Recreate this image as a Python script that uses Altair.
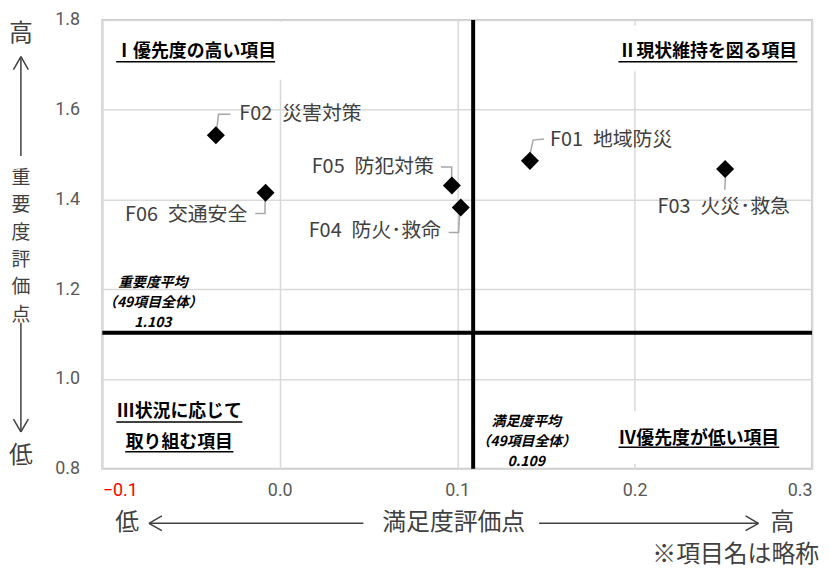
import altair as alt
import pandas as pd

# ---------------- data ----------------
codes = ["F01", "F02", "F03", "F04", "F05", "F06"]
names = ["地域防災", "災害対策", "火災･救急", "防火･救命", "防犯対策", "交通安全"]
satisfaction = [0.141, -0.036, 0.251, 0.102, 0.097, -0.008]
importance = [1.486, 1.543, 1.468, 1.382, 1.431, 1.415]

avg_satisfaction = 0.109
avg_importance = 1.103

x_ticks = [-0.1, 0.0, 0.1, 0.2, 0.3]
y_ticks = [0.8, 1.0, 1.2, 1.4, 1.6, 1.8]

# label anchors (data units)
label_x = [0.1523, -0.0228, 0.2502, 0.0908, 0.0869, -0.0183]
label_y = [1.5323, 1.590, 1.382, 1.3288, 1.4726, 1.366]
label_align = ["left", "left", "center", "right", "right", "right"]

# leader lines (data units)
leader_x = {
    "F01": [0.1406, 0.1428, 0.1490],
    "F02": [-0.0357, -0.0345, -0.0278],
    "F03": [0.2513, 0.2508],
    "F04": [0.1014, 0.1008, 0.0952],
    "F05": [0.0969, 0.0969, 0.0908],
    "F06": [-0.0083, -0.0083, -0.0138],
}
leader_y = {
    "F01": [1.4925, 1.5323, 1.5345],
    "F02": [1.550, 1.590, 1.590],
    "F03": [1.4593, 1.4217],
    "F04": [1.375, 1.3265, 1.3265],
    "F05": [1.437, 1.4726, 1.4726],
    "F06": [1.406, 1.3686, 1.3686],
}

# quadrant captions
quad_text = ["Ⅰ優先度の高い項目", "Ⅱ現状維持を図る項目", "Ⅲ状況に応じて", "取り組む項目", "Ⅳ優先度が低い項目"]
quad_x = [-0.0474, 0.2413, -0.0566, -0.0566, 0.2362]
quad_y = [1.7292, 1.7292, 0.9261, 0.8575, 0.8664]
quad_half = [0.0448, 0.0504, 0.0355, 0.0305, 0.0453]
quad_uy = [1.707, 1.707, 0.904, 0.8376, 0.8476]

# white boxes behind captions
box_x = [-0.096, 0.1864, 0.1864]
box_x2 = [0.0046, 0.2955, 0.287]
box_y = [1.796, 1.787, 0.928]
box_y2 = [1.667, 1.685, 0.811]

# average captions
imp_lines = ["重要度平均", "（49項目全体）", f"{avg_importance:.3f}"]
imp_lx = -0.0715
imp_ly = [1.2144, 1.1695, 1.1246]
sat_lines = ["満足度平均", "（49項目全体）", f"{avg_satisfaction:.3f}"]
sat_lx = 0.1389
sat_ly = [0.9046, 0.8597, 0.8148]

# axis title decorations (pixels, relative to the plot origin)
seg_x = [-82, -82, -82, -82, -82, -82, 47, 47, 47, 440, 661, 661]
seg_y = [37, 37, 37, 305, 415, 415, 507, 507, 507, 507, 507, 507]
seg_x2 = [-82, -89.5, -74.5, -82, -89.5, -74.5, 263, 60, 60, 661, 648, 648]
seg_y2 = [137, 50, 50, 415, 402, 402, 507, 499.5, 514.5, 507, 499.5, 514.5]

y_title_chars = list("重要度評価点")
y_title_top = 159
y_title_step = 27.6

deco_text = ["高", "低", "低", "満足度評価点", "高", "※項目名は略称"] + y_title_chars
deco_x = [-82, -82, 25, 354, 685, 722] + [-82] * len(y_title_chars)
deco_y = [14, 439, 507, 507, 507, 539] + [y_title_top + i * y_title_step
                                          for i in range(len(y_title_chars))]
deco_fs = [24, 24, 24, 24, 24, 24] + [19] * len(y_title_chars)
deco_align = ["center", "center", "center", "center", "center", "right"] + \
             ["center"] * len(y_title_chars)

JP = "Noto Sans CJK JP"

# ---------------- frames ----------------
pts = pd.DataFrame({"code": codes, "name": names, "x": satisfaction, "y": importance,
                    "lx": label_x, "ly": label_y, "align": label_align})
pts["label"] = pts["code"] + "\u2002" + pts["name"]

lead_rows = []
for c in codes:
    for i, (a, b) in enumerate(zip(leader_x[c], leader_y[c])):
        lead_rows.append({"code": c, "i": i, "x": a, "y": b})
lead = pd.DataFrame(lead_rows)

quad = pd.DataFrame({"t": quad_text, "x": quad_x, "y": quad_y,
                     "ux": [a - h for a, h in zip(quad_x, quad_half)],
                     "ux2": [a + h for a, h in zip(quad_x, quad_half)],
                     "uy": quad_uy})
boxes = pd.DataFrame({"x": box_x, "x2": box_x2, "y": box_y, "y2": box_y2})
avgtxt = pd.DataFrame({"t": imp_lines + sat_lines,
                       "x": [imp_lx] * 3 + [sat_lx] * 3,
                       "y": imp_ly + sat_ly})
segs = pd.DataFrame({"x": seg_x, "y": seg_y, "x2": seg_x2, "y2": seg_y2})
deco = pd.DataFrame({"t": deco_text, "x": deco_x, "y": deco_y, "fs": deco_fs,
                     "align": deco_align})

xscale = alt.Scale(domain=[-0.1, 0.3], nice=False, zero=False)
yscale = alt.Scale(domain=[0.8, 1.8], nice=False, zero=False)
xaxis = alt.Axis(values=x_ticks, format=".1f", title=None, ticks=False, domain=False,
                 labelFont="Roboto", labelFontSize=18, labelPadding=13,
                 labelColor={"condition": {"test": "datum.value < 0", "value": "#ff0000"},
                             "value": "#595959"},
                 gridColor="#d9d9d9", gridWidth=1.5)
yaxis = alt.Axis(values=y_ticks, format=".1f", title=None, ticks=False, domain=False,
                 labelFont="Roboto", labelFontSize=18, labelPadding=23, labelColor="#595959",
                 gridColor="#d9d9d9", gridWidth=1.5)


def X(f):
    return alt.X(f, type="quantitative", scale=xscale, axis=xaxis)


def Y(f):
    return alt.Y(f, type="quantitative", scale=yscale, axis=yaxis)


box_layer = alt.Chart(boxes).mark_rect(color="white").encode(
    x=X("x"), x2="x2", y=Y("y"), y2="y2")

vline = alt.Chart(pd.DataFrame({"v": [avg_satisfaction]})).mark_rule(
    color="black", strokeWidth=4).encode(x=X("v"))
hline = alt.Chart(pd.DataFrame({"v": [avg_importance]})).mark_rule(
    color="black", strokeWidth=4).encode(y=Y("v"))

leaders = alt.Chart(lead).mark_line(color="#a6a6a6", strokeWidth=1.5).encode(
    x=X("x"), y=Y("y"), detail="code:N", order="i:Q")

points = alt.Chart(pts).mark_point(shape="diamond", filled=True, color="black",
                                   size=330, opacity=1).encode(x=X("x"), y=Y("y"))


def label_layer(al):
    return alt.Chart(pts[pts["align"] == al]).mark_text(
        align=al, baseline="middle", font=JP, fontSize=20, color="#404040").encode(
        x=X("lx"), y=Y("ly"), text="label:N")


quad_txt = alt.Chart(quad).mark_text(align="center", baseline="middle", font=JP,
                                     fontSize=18, fontWeight="bold", color="black").encode(
    x=X("x"), y=Y("y"), text="t:N")
quad_ul = alt.Chart(quad).mark_rule(color="black", strokeWidth=1.5).encode(
    x=X("ux"), x2="ux2", y=Y("uy"))

avg_layer = alt.Chart(avgtxt).mark_text(align="center", baseline="middle", font=JP,
                                        fontSize=14, fontWeight="bold", fontStyle="italic",
                                        color="black").encode(
    x=X("x"), y=Y("y"), text="t:N")

seg_layer = alt.Chart(segs).mark_rule(color="#404040", strokeWidth=1.5).encode(
    x=alt.X("x:Q", scale=None), x2="x2:Q", y=alt.Y("y:Q", scale=None), y2="y2:Q")


def deco_layer(al):
    return alt.Chart(deco[deco["align"] == al]).mark_text(
        align=al, baseline="middle", font=JP, color="#404040").encode(
        x=alt.X("x:Q", scale=None), y=alt.Y("y:Q", scale=None), text="t:N",
        size=alt.Size("fs:Q", scale=None, legend=None))


chart = alt.layer(
    box_layer, vline, hline, leaders, points,
    label_layer("left"), label_layer("right"), label_layer("center"),
    quad_txt, quad_ul, avg_layer, seg_layer, deco_layer("center"), deco_layer("right"),
).properties(
    width=715, height=452,
    autosize=alt.AutoSizeParams(type="none"),
    padding={"left": 95, "top": 10, "right": 10, "bottom": 100},
    background="white",
).configure_view(stroke="#c8c8c8", strokeWidth=2)

chart.save("out.html", embed_options={"renderer": "svg", "actions": False})
